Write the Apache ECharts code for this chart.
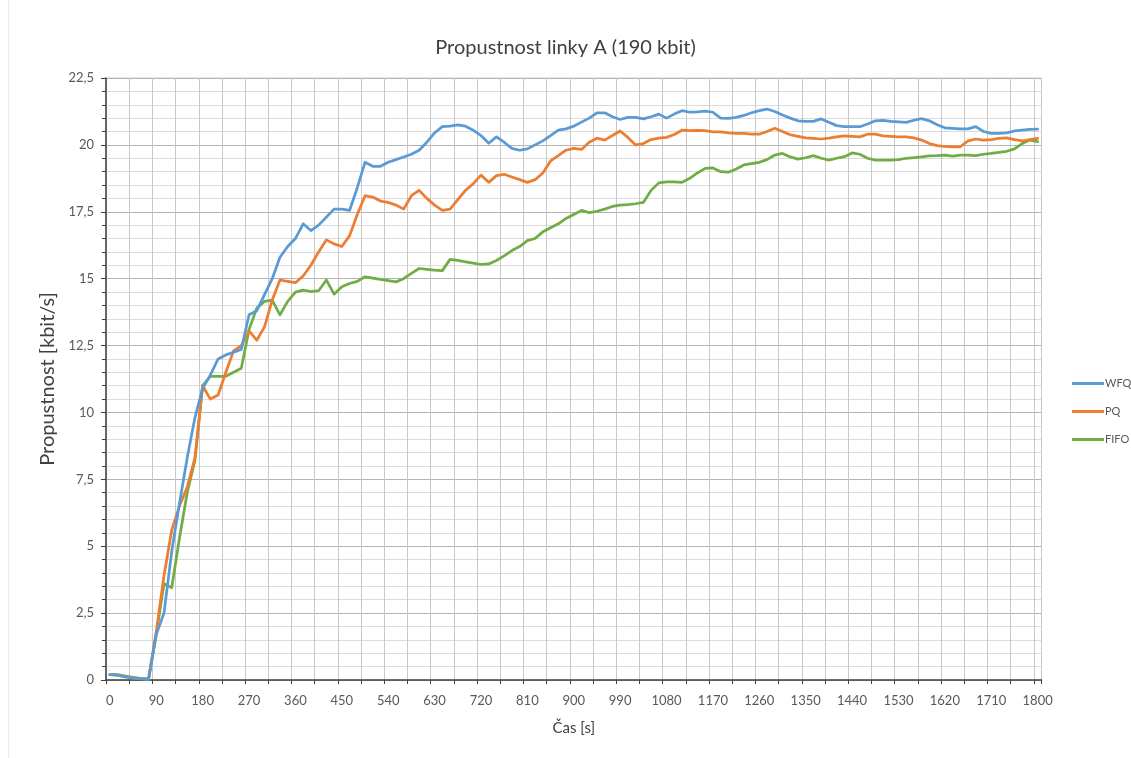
<!DOCTYPE html>
<html>
<head>
<meta charset="utf-8">
<script src="https://cdn.jsdelivr.net/npm/echarts@6/dist/echarts.min.js"></script>
<style>
html,body{margin:0;padding:0;background:#fff;}
#c{width:1131px;height:758px;}
</style>
</head>
<body>
<div id="c"></div>
<script>
const titleText = 'Propustnost linky A (190 kbit)';
const xName = 'Čas [s]';
const yName = 'Propustnost [kbit/s]';
const seriesNames = ['WFQ', 'PQ', 'FIFO'];
const yTicks = [0, 2.5, 5, 7.5, 10, 12.5, 15, 17.5, 20, 22.5];

const times = [0,15,30,45,60,75,90,105,120,135,150,165,180,195,210,225,240,255,270,285,300,315,330,345,360,375,390,405,420,435,450,465,480,495,510,525,540,555,570,585,600,615,630,645,660,675,690,705,720,735,750,765,780,795,810,825,840,855,870,885,900,915,930,945,960,975,990,1005,1020,1035,1050,1065,1080,1095,1110,1125,1140,1155,1170,1185,1200,1215,1230,1245,1260,1275,1290,1305,1320,1335,1350,1365,1380,1395,1410,1425,1440,1455,1470,1485,1500,1515,1530,1545,1560,1575,1590,1605,1620,1635,1650,1665,1680,1695,1710,1725,1740,1755,1770,1785,1800];

const wfq = [0.2,0.18,0.12,0.08,0.05,0.03,1.7,2.5,4.8,6.6,8.3,9.8,10.9,11.4,12.0,12.15,12.25,12.35,13.65,13.8,14.4,15.0,15.8,16.2,16.5,17.05,16.8,17.0,17.3,17.6,17.6,17.55,18.4,19.35,19.2,19.2,19.35,19.45,19.55,19.65,19.8,20.1,20.45,20.68,20.7,20.75,20.7,20.55,20.35,20.06,20.3,20.1,19.87,19.8,19.85,20.0,20.15,20.35,20.55,20.6,
20.7,20.85,21.0,21.2,21.2,21.05,20.95,21.03,21.03,20.97,21.05,21.15,21.0,21.15,21.28,21.22,21.23,21.26,21.22,21.0,20.99,21.03,21.1,21.2,21.28,21.34,21.25,21.12,21.0,20.9,20.88,20.88,20.97,20.85,20.72,20.68,20.68,20.68,20.78,20.9,20.92,20.88,20.86,20.84,20.92,20.98,20.9,20.75,20.64,20.62,20.6,20.6,20.68,20.5,20.43,20.43,20.45,20.52,20.55,20.58,20.59];

const pq = [0.2,0.18,0.12,0.08,0.05,0.03,1.8,3.9,5.6,6.5,7.2,8.3,11.0,10.5,10.65,11.5,12.3,12.5,13.05,12.7,13.2,14.2,14.95,14.9,14.85,15.1,15.5,16.0,16.45,16.3,16.2,16.6,17.4,18.1,18.05,17.9,17.85,17.75,17.6,18.1,18.3,18.0,17.75,17.55,17.6,17.95,18.3,18.55,18.87,18.6,18.85,18.9,18.8,18.7,18.6,18.7,18.95,19.4,19.6,19.8,
19.87,19.83,20.1,20.25,20.18,20.35,20.52,20.28,20.0,20.05,20.2,20.25,20.28,20.39,20.55,20.53,20.54,20.53,20.49,20.49,20.45,20.43,20.43,20.4,20.4,20.5,20.62,20.5,20.38,20.32,20.26,20.24,20.22,20.25,20.3,20.34,20.32,20.3,20.4,20.4,20.34,20.32,20.3,20.3,20.26,20.18,20.05,19.97,19.94,19.93,19.93,20.15,20.22,20.18,20.2,20.24,20.26,20.2,20.15,20.2,20.24];

const fifo = [0.2,0.2,0.15,0.1,0.05,0.03,1.7,3.6,3.45,5.3,7.0,8.2,11.0,11.35,11.35,11.35,11.5,11.65,13.1,13.9,14.15,14.2,13.65,14.15,14.5,14.57,14.52,14.55,14.95,14.42,14.7,14.82,14.9,15.07,15.02,14.97,14.93,14.88,15.0,15.2,15.38,15.35,15.32,15.3,15.72,15.68,15.63,15.58,15.53,15.55,15.68,15.85,16.05,16.2,16.42,16.5,16.75,16.9,17.05,17.25,
17.4,17.55,17.47,17.52,17.6,17.7,17.75,17.77,17.8,17.85,18.3,18.58,18.62,18.62,18.6,18.75,18.95,19.12,19.14,19.0,18.98,19.1,19.25,19.3,19.35,19.45,19.62,19.68,19.55,19.47,19.52,19.6,19.5,19.43,19.5,19.56,19.7,19.65,19.5,19.43,19.43,19.43,19.45,19.5,19.52,19.55,19.59,19.6,19.62,19.58,19.62,19.62,19.6,19.65,19.68,19.72,19.76,19.85,20.05,20.18,20.12];

const colors = ['#5b9bd5', '#ed7d31', '#70ad47'];
const FONT = 'Lato, "Open Sans", sans-serif';

const chart = echarts.init(document.getElementById('c'), null, {renderer: 'canvas'});
const values = [wfq, pq, fifo];

chart.setOption({
  animation: false,
  backgroundColor: '#ffffff',
  title: {
    text: titleText,
    left: 'center',
    top: 33,
    textStyle: {fontFamily: FONT, fontSize: 20, fontWeight: 'normal', color: '#404040'}
  },
  grid: {
    left: 106, top: 78, right: 89.5, bottom: 78,
    show: true, borderColor: '#d0d0d0', borderWidth: 1
  },
  legend: {
    orient: 'vertical',
    left: 1067,
    top: 373,
    icon: 'rect',
    itemWidth: 32,
    itemHeight: 3,
    itemGap: 17,
    data: seriesNames,
    textStyle: {fontFamily: FONT, fontSize: 11, color: '#595959', padding: [0,0,0,-4]}
  },
  xAxis: {
    type: 'category',
    data: times.map(String),
    boundaryGap: true,
    name: xName,
    nameLocation: 'middle',
    nameGap: 41,
    nameTextStyle: {fontFamily: FONT, fontSize: 15, color: '#404040'},
    axisLine: {lineStyle: {color: '#404040', width: 1.5}},
    axisTick: {show: true, interval: 2, length: 4, lineStyle: {color: '#404040'}},
    axisLabel: {interval: 5, margin: 14, fontFamily: FONT, fontSize: 13, color: '#595959'},
    splitLine: {show: true, interval: 2, lineStyle: {color: '#c8c8c8', width: 1}}
  },
  yAxis: {
    type: 'value',
    min: yTicks[0],
    max: yTicks[yTicks.length - 1],
    interval: 2.5,
    name: yName,
    nameLocation: 'middle',
    nameGap: 39,
    nameTextStyle: {fontFamily: FONT, fontSize: 20, color: '#404040'},
    axisLine: {show: true, lineStyle: {color: '#404040', width: 1.5}},
    axisTick: {show: true, length: 5, lineStyle: {color: '#404040'}},
    minorTick: {show: true, splitNumber: 5, length: 4, lineStyle: {color: '#404040'}},
    axisLabel: {
      margin: 12, fontFamily: FONT, fontSize: 13, color: '#595959',
      formatter: v => String(v).replace('.', ',')
    },
    splitLine: {show: true, lineStyle: {color: '#b4b4b4', width: 1.2}},
    minorSplitLine: {show: true, lineStyle: {color: '#dcdcdc', width: 1}}
  },
  graphic: [{
    type: 'line', shape: {x1: 8.5, y1: 0, x2: 8.5, y2: 758},
    style: {stroke: '#ececec', lineWidth: 1}, silent: true
  }],
  series: seriesNames.map((n, k) => ({
    name: n,
    type: 'line',
    data: values[k],
    symbol: 'none',
    smooth: false,
    lineStyle: {color: colors[k], width: 2.75, join: 'round', cap: 'round'},
    itemStyle: {color: colors[k]},
    z: 3 + (2 - k)
  }))
});
</script>
</body>
</html>
